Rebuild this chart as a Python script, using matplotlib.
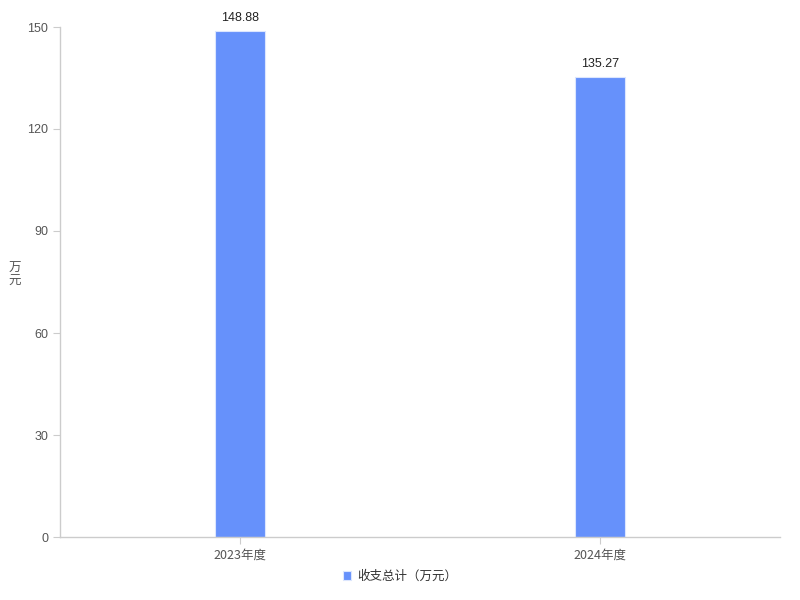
import matplotlib
matplotlib.use("Agg")
import matplotlib.pyplot as plt

plt.rcParams['font.family'] = ['Noto Sans CJK SC', 'DejaVu Sans']

categories = ["2023年度", "2024年度"]
values = [148.88, 135.27]
series_name = "收支总计（万元）"
yticks = [0, 30, 60, 90, 120, 150]

fig = plt.figure(figsize=(8, 6), dpi=100)
ax = fig.add_axes([0.075, 0.105, 0.9, 0.85])

x = list(range(len(categories)))
bars = ax.bar(x, values, width=0.14, color='#6691fb', edgecolor='#dce6fe', linewidth=0.8,
              label=series_name, zorder=2)
for xi, v in zip(x, values):
    ax.annotate(f"{v:.2f}", (xi, v), xytext=(0, 5), textcoords='offset points',
                ha='center', va='bottom', fontsize=9, color='#222222',
                family=['Liberation Sans', 'DejaVu Sans'])

ax.set_xlim(-0.5, 1.5)
ax.set_ylim(0, 150)
ax.set_yticks(yticks)
ax.set_xticks(x)
ax.set_xticklabels(categories)
for s in ['top', 'right']:
    ax.spines[s].set_visible(False)
for s in ['left', 'bottom']:
    ax.spines[s].set_color('#cccccc')
    ax.spines[s].set_linewidth(1)
ax.tick_params(axis='both', colors='#cccccc', labelcolor='#555555', labelsize=9, length=5)
for lab in ax.get_yticklabels():
    lab.set_family(['Liberation Sans', 'DejaVu Sans'])

fig.text(0.018, 0.542, "万\n元", ha='center', va='center', fontsize=9, color='#555555',
         linespacing=1.0)

leg = fig.legend(handles=[bars], labels=[series_name], loc='center', bbox_to_anchor=(0.5, 0.04),
                 frameon=False, fontsize=9, handlelength=0.7, handleheight=0.7, handletextpad=0.5)
for t in leg.get_texts():
    t.set_color('#333333')

fig.savefig("out.png", dpi=100)
